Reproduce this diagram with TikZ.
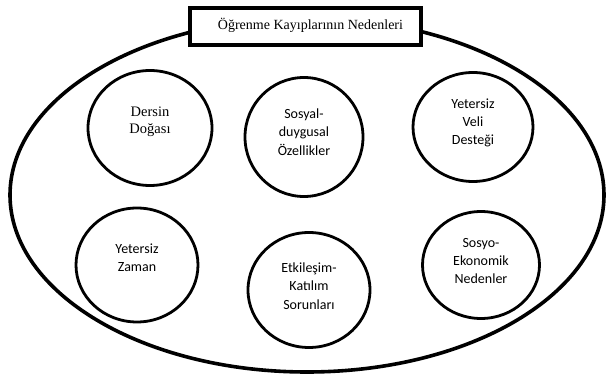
\documentclass[tikz,border=0pt]{standalone}
\usepackage{fontspec}
\setmainfont{Liberation Serif}
\newfontfamily\calibri{Carlito}
\usetikzlibrary{shapes.geometric}
\tikzset{
  bubble/.style={draw, line width=2.8pt, ellipse, inner sep=0pt},
  serifstyle/.style={align=center, font=\fontsize{14.5}{17}\selectfont},
  sansstyle/.style={align=center, font=\calibri\fontsize{14}{18.3}\selectfont},
  titlebox/.style={draw, line width=4pt, fill=white, minimum width=231pt, minimum height=37pt, inner sep=0pt}
}
\begin{document}
\begin{tikzpicture}[x=1pt,y=-1pt]
\useasboundingbox (0,0) rectangle (606,382);
% outer ellipse
\node[draw, line width=3.6pt, ellipse, minimum width=594pt, minimum height=354pt, inner sep=0pt] (outer) at (307,195) {};
% title
\node[titlebox] (title) at (305.5,26.5) {};
\node[font=\fontsize{14}{16}\selectfont] (titletext) at (310.5,25) {Öğrenme Kayıplarının Nedenleri};
% bubbles
\node[bubble, minimum width=124pt, minimum height=115pt] (c1) at (150,128) {};
\node[serifstyle] (t1) at (150,122) {Dersin\\Doğası};
\node[bubble, minimum width=118pt, minimum height=119pt] (c2) at (304,137) {};
\node[sansstyle] (t2) at (304,132) {Sosyal-\\duygusal\\Özellikler};
\node[bubble, minimum width=120pt, minimum height=109pt] (c3) at (473,127) {};
\node[sansstyle] (t3) at (473,123) {Yetersiz\\Veli\\Desteği};
\node[bubble, minimum width=122pt, minimum height=114pt] (c4) at (137,265) {};
\node[sansstyle] (t4) at (137,258) {Yetersiz\\Zaman};
\node[bubble, minimum width=122pt, minimum height=115pt] (c5) at (309,290) {};
\node[sansstyle] (t5) at (309,286) {Etkileşim-\\Katılım\\Sorunları};
\node[bubble, minimum width=117pt, minimum height=107pt] (c6) at (481,265) {};
\node[sansstyle] (t6) at (481,261) {Sosyo-\\Ekonomik\\Nedenler};
\end{tikzpicture}
\end{document}
